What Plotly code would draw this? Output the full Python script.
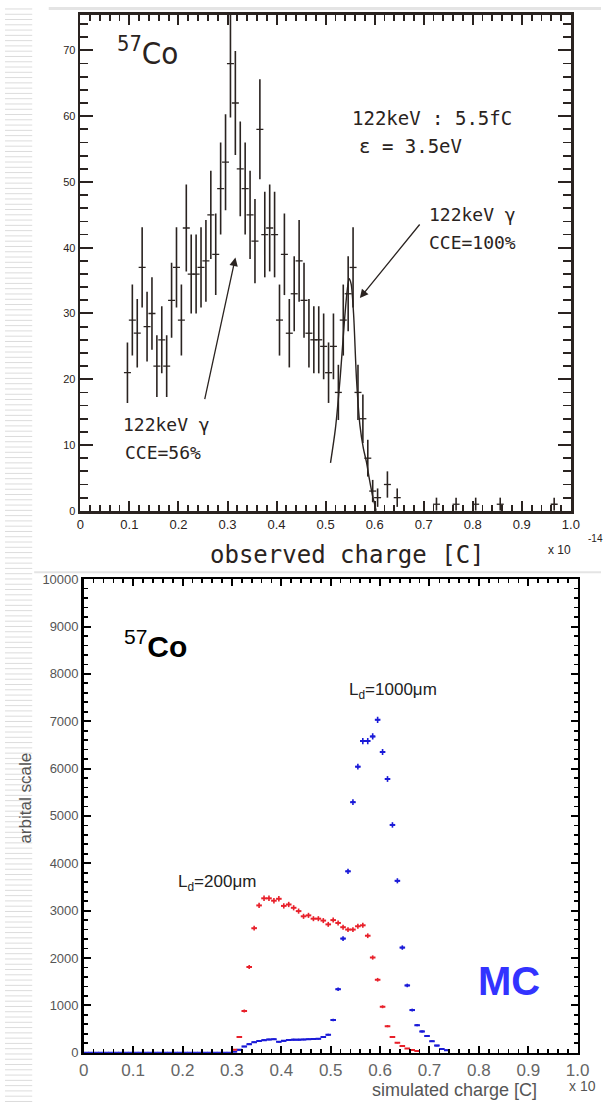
import plotly.graph_objects as go

# ---------------- top panel: observed spectrum ----------------
top_x = [0.096, 0.106, 0.116, 0.126, 0.136, 0.146, 0.156, 0.166, 0.176, 0.186,
         0.196, 0.206, 0.216, 0.226, 0.236, 0.246, 0.256, 0.266, 0.276, 0.286,
         0.296, 0.306, 0.316, 0.326, 0.336, 0.346, 0.356, 0.366, 0.376, 0.386,
         0.396, 0.406, 0.416, 0.426, 0.436, 0.446, 0.456, 0.466, 0.476, 0.486,
         0.496, 0.506, 0.516, 0.526, 0.536, 0.546, 0.556, 0.566, 0.576, 0.586,
         0.596, 0.606, 0.626, 0.646, 0.726, 0.766, 0.806, 0.856, 0.966]
top_counts = [21, 29, 27, 37, 28, 30, 22, 26, 22, 32,
              37, 29, 43, 36, 36, 37, 38, 45, 39, 49,
              53, 68, 62, 52, 49, 45, 41, 58, 42, 43,
              42, 29, 39, 27, 33, 38, 32, 27, 26, 26,
              25, 21, 25, 18, 29, 33, 37, 18, 14, 8,
              3, 2, 4, 2, 1, 1, 1, 1, 1]
top_err = [4.6, 5.4, 5.2, 6.1, 5.3, 5.5, 4.7, 5.1, 4.7, 5.7,
           6.1, 5.4, 6.6, 6.0, 6.0, 6.1, 6.2, 6.7, 6.2, 7.0,
           7.3, 8.2, 7.9, 7.2, 7.0, 6.7, 6.4, 7.6, 6.5, 6.6,
           6.5, 5.4, 6.2, 5.2, 5.7, 6.2, 5.7, 5.2, 5.1, 5.1,
           5.0, 4.6, 5.0, 4.2, 5.4, 5.7, 6.1, 4.2, 3.7, 2.8,
           1.7, 1.4, 2.0, 1.4, 1.0, 1.0, 1.0, 1.0, 1.0]
fit_x = [0.510, 0.520, 0.530, 0.538, 0.544, 0.548, 0.552, 0.557, 0.563, 0.570,
         0.577, 0.583, 0.590, 0.596, 0.600, 0.603]
fit_y = [7.3, 12.5, 20.5, 28.5, 33.5, 35.3, 34.5, 30.0, 20.0, 13.0,
         9.5, 7.5, 4.5, 2.2, 1.0, 0.0]

# ---------------- bottom panel: simulation ----------------
bin_width = 0.01
red_start = 0.305
red_y = [60, 330, 880, 1810, 2630, 3110, 3260, 3260, 3210, 3250,
         3100, 3130, 3060, 2990, 2880, 2900, 2830, 2830, 2790, 2710,
         2800, 2740, 2650, 2600, 2600, 2670, 2690, 2470, 2010, 1540,
         970, 560, 330, 210, 140, 90, 55, 35]
red_err = [8, 18, 30, 42, 51, 56, 57, 57, 57, 57,
           56, 56, 55, 55, 54, 54, 53, 53, 53, 52,
           53, 52, 52, 51, 51, 52, 52, 50, 45, 39,
           31, 24, 18, 14, 12, 9, 7, 6]
blue_start = 0.005
blue_y = [0] * 30 + [20, 60, 130, 180, 220, 245, 265, 280, 285, 230,
                     250, 270, 275, 275, 280, 285, 290, 295, 330, 380,
                     690, 1340, 2410, 3830, 5290, 6040, 6580, 6580, 6680, 7030,
                     6350, 5780, 4810, 3630, 2220, 1420, 900, 580, 450, 350,
                     240, 150, 80, 50]
blue_err = [0] * 30 + [4, 8, 11, 13, 15, 16, 16, 17, 17, 15,
                       16, 16, 17, 17, 17, 17, 17, 17, 18, 19,
                       26, 37, 49, 55, 60, 62, 64, 64, 65, 66,
                       63, 61, 58, 54, 47, 38, 30, 24, 21, 19,
                       15, 12, 9, 7]
red_x = [round(red_start + bin_width * i, 3) for i in range(len(red_y))]
blue_x = [round(blue_start + bin_width * i, 3) for i in range(len(blue_y))]

tick_vals = [0, 0.1, 0.2, 0.3, 0.4, 0.5, 0.6, 0.7, 0.8, 0.9, 1.0]
tick_text = ["0", "0.1", "0.2", "0.3", "0.4", "0.5", "0.6", "0.7", "0.8", "0.9", "1.0"]
y2_vals = [0, 1000, 2000, 3000, 4000, 5000, 6000, 7000, 8000, 9000, 10000]
y2_text = ["0", "1000", "2000", "3000", "4000", "5000", "6000", "7000", "8000", "9000", "10000"]

W, H = 613, 1111
DARK = "#2a2320"
RED = "#e8202a"
BLUE = "#1a1ad8"

def px(x):
    return x / W

def py(y):
    return 1 - y / H

fig = go.Figure()

fig.add_trace(go.Scatter(
    x=top_x, y=top_counts, mode="markers", xaxis="x", yaxis="y",
    marker=dict(symbol="line-ew", size=5, line=dict(width=1.3, color=DARK)),
    error_y=dict(type="data", array=top_err, width=0, thickness=1.6, color=DARK),
    showlegend=False, hoverinfo="x+y"))
fig.add_trace(go.Scatter(
    x=fit_x, y=fit_y, mode="lines", xaxis="x", yaxis="y",
    line=dict(color=DARK, width=1.4, shape="spline", smoothing=0.8),
    showlegend=False))

fig.add_trace(go.Scatter(
    x=blue_x, y=blue_y, mode="markers", xaxis="x2", yaxis="y2",
    marker=dict(symbol="line-ew", size=4, line=dict(width=2, color=BLUE)),
    error_y=dict(type="data", array=blue_err, width=0, thickness=1.6, color=BLUE),
    error_x=dict(type="constant", value=0.0045, width=0, thickness=1.6, color=BLUE),
    showlegend=False))
fig.add_trace(go.Scatter(
    x=red_x, y=red_y, mode="markers", xaxis="x2", yaxis="y2",
    marker=dict(symbol="line-ew", size=4, line=dict(width=2, color=RED)),
    error_y=dict(type="data", array=red_err, width=0, thickness=1.6, color=RED),
    showlegend=False))

top_font = dict(family="Liberation Sans Narrow, Arial Narrow, Liberation Sans, sans-serif", size=13, color=DARK)

fig.update_layout(
    width=W, height=H, margin=dict(l=0, r=0, t=0, b=0),
    paper_bgcolor="white", plot_bgcolor="white", dragmode=False,
    xaxis=dict(domain=[px(77.5), px(582)], range=[0, 1], anchor="y",
               tickmode="array", tickvals=tick_vals, ticktext=tick_text, tickfont=top_font,
               showgrid=False, zeroline=False, showline=True, linewidth=2.7,
               linecolor=DARK, mirror="ticks", ticks="inside", tickcolor=DARK,
               tickwidth=2, ticklen=10,
               minor=dict(ticks="inside", dtick=0.02, tick0=0, ticklen=6,
                          tickcolor=DARK, tickwidth=1.8)),
    yaxis=dict(domain=[py(510.7), py(8)], range=[0, 75.4], anchor="x",
               tickmode="linear", tick0=0, dtick=10,
               tickfont=dict(family="Liberation Sans, Arial, sans-serif", size=11, color=DARK),
               showgrid=False, zeroline=False, showline=True, linewidth=2.7,
               linecolor=DARK, mirror="ticks", ticks="inside", tickcolor=DARK,
               tickwidth=2, ticklen=13,
               minor=dict(ticks="inside", dtick=2, tick0=0, ticklen=8,
                          tickcolor=DARK, tickwidth=1.8)),
    xaxis2=dict(domain=[px(81), px(589)], range=[0, 1], anchor="y2",
                tickmode="array", tickvals=tick_vals, ticktext=tick_text,
                tickfont=dict(family="Liberation Sans, Arial, sans-serif", size=17, color="#666666"),
                showgrid=False, zeroline=False, showline=True, linewidth=2.6,
                linecolor="black", mirror="ticks", ticks="inside", tickcolor="black",
                tickwidth=2, ticklen=7,
                minor=dict(ticks="inside", dtick=0.02, tick0=0, ticklen=4,
                           tickcolor="black", tickwidth=1.7)),
    yaxis2=dict(domain=[py(1060), py(580)], range=[0, 10000], anchor="x2",
                tickmode="array", tickvals=y2_vals, ticktext=y2_text,
                tickfont=dict(family="Liberation Sans Narrow, Arial Narrow, Liberation Sans, sans-serif",
                              size=13, color="#555555"),
                showgrid=False, zeroline=False, showline=True, linewidth=2.6,
                linecolor="black", mirror="ticks", ticks="inside", tickcolor="black",
                tickwidth=2, ticklen=7,
                minor=dict(ticks="inside", dtick=200, tick0=0, ticklen=4,
                           tickcolor="black", tickwidth=1.7)),
)

# decorative left stripes
shapes = []
y = 2.0
while y < H:
    shapes.append(dict(type="line", xref="paper", yref="paper", layer="below",
                       x0=0, x1=px(28), y0=py(y), y1=py(y),
                       line=dict(color="#dcdcdc", width=1)))
    y += 5.35
shapes.append(dict(type="line", xref="paper", yref="paper", x0=px(45), x1=1, layer="below",
                   y0=py(1.5), y1=py(1.5), line=dict(color="#e4e4e4", width=3)))
shapes.append(dict(type="line", xref="paper", yref="paper", x0=px(30), x1=1, layer="below",
                   y0=py(573), y1=py(573), line=dict(color="#e4e4e4", width=2)))
fig.update_layout(shapes=shapes)

ann = []
def text(x, y, s, size, family, color=DARK, xanchor="left", **kw):
    ann.append(dict(x=px(x), y=py(y), xref="paper", yref="paper", text=s,
                    showarrow=False, xanchor=xanchor, yanchor="middle",
                    font=dict(size=size, family=family, color=color), **kw))

NARROW = "Liberation Sans Narrow, Arial Narrow, DejaVu Sans Condensed, Liberation Sans, sans-serif"
MONO = "DejaVu Sans Mono, Liberation Mono, monospace"
text(113, 45, "<sup>57</sup>Co", 31, NARROW)
text(355, 113, "122keV : 5.5fC", 19, MONO)
text(362, 141, "ε = 3.5eV", 19, MONO)
text(434, 210, "122keV γ", 18, MONO)
text(434, 239, "CCE=100%", 18, MONO)
text(119, 423, "122keV γ", 18, MONO)
text(121, 452, "CCE=56%", 18, MONO)
text(352, 556, "observed charge [C]", 24, MONO, xanchor="center")
text(556, 550, "x 10", 12, "Liberation Sans, Arial, sans-serif")
text(598, 539, "-14", 10, "Liberation Sans, Arial, sans-serif")

# arrows
ann.append(dict(x=px(365), y=py(295), xref="paper", yref="paper", text="",
                showarrow=True, ax=61, ay=-75, arrowhead=2, arrowsize=1.3,
                arrowwidth=1.3, arrowcolor=DARK))
ann.append(dict(x=px(237), y=py(254), xref="paper", yref="paper", text="",
                showarrow=True, ax=-31, ay=143, arrowhead=2, arrowsize=1.3,
                arrowwidth=1.3, arrowcolor=DARK))

ARIAL = "Liberation Sans, Arial, sans-serif"
text(120, 646, "<sup>57</sup><b>Co</b>", 30, ARIAL, color="black")
text(352, 693, "L<sub>d</sub>=1000μm", 17, ARIAL, color="#222222")
text(176, 888, "L<sub>d</sub>=200μm", 17, ARIAL, color="#222222")
text(484, 987, "<b>MC</b>", 40, ARIAL, color="#3333ff")
text(462, 1098, "simulated charge [C]", 18, ARIAL, color="#555555", xanchor="center")
text(578, 1094, "x 10", 14, ARIAL, color="#555555")
text(21, 802, "arbital scale", 17, ARIAL, color="#555555", xanchor="center", textangle=-90)

fig.update_layout(annotations=ann)
fig.write_html("out.html", config={"staticPlot": True})
